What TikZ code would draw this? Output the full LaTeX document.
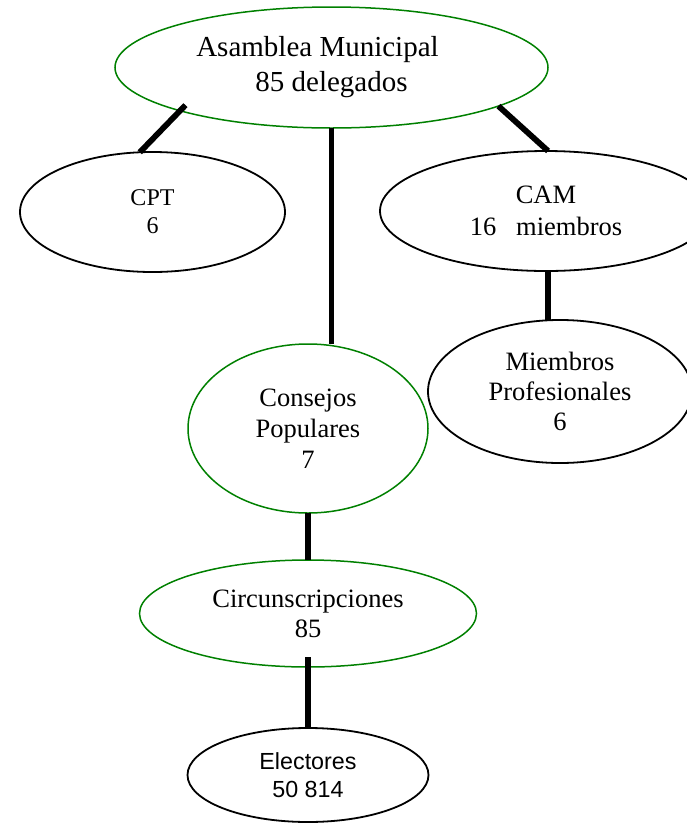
\documentclass[tikz,border=0pt]{standalone}
\usepackage{fontspec}
\setmainfont{Liberation Serif}
\newfontfamily\arialfont{Liberation Sans}
\usetikzlibrary{shapes.geometric}
\definecolor{orggreen}{RGB}{0,128,0}
\tikzset{
  ell/.style={ellipse, draw=black, line width=1.8pt, inner sep=0pt, outer sep=0pt, align=center, text=black},
  gell/.style={ell, draw=orggreen, line width=1.5pt},
  conn/.style={line width=5.8pt, draw=black}
}
\begin{document}
\begin{tikzpicture}[x=1pt,y=-1pt]
\path[use as bounding box] (0,0) rectangle (687,823);
\clip (0,0) rectangle (687,823);
\node[gell, minimum width=433pt, minimum height=121pt, font=\fontsize{29}{35}\selectfont] (asm) at (331.5,67.5)
  {Asamblea Municipal\hspace*{28pt}\\85 delegados};
\node[ell, minimum width=265pt, minimum height=120pt, font=\fontsize{24}{28}\selectfont] (cpt) at (152.5,212) {CPT\\6};
\node[ell, minimum width=332pt, minimum height=120pt, font=\fontsize{26.5}{32}\selectfont] (cam) at (546,211) {CAM\\16~~~miembros};
\node[ell, minimum width=264pt, minimum height=143pt, font=\fontsize{26.5}{30}\selectfont] (mp) at (560,391.5) {Miembros\\Profesionales\\6};
\node[gell, minimum width=240pt, minimum height=169pt, font=\fontsize{26.5}{31}\selectfont] (cons) at (308,428.5) {Consejos\\Populares\\7};
\node[gell, minimum width=337pt, minimum height=107pt, font=\fontsize{26.5}{30}\selectfont] (circ) at (308,613.5) {Circunscripciones\\85};
\node[ell, minimum width=241pt, minimum height=94pt, font=\arialfont\fontsize{23.3}{28}\selectfont] (elec) at (308,775) {Electores\\50 814};
\draw[conn] ([yshift=7pt]asm.197) -- (cpt.102);
\draw[conn] (asm.347) -- (cam.88);
\draw[conn] (asm.south) -- (asm.south |- cons.north);
\draw[conn] ([xshift=2pt]cam.south) -- ([xshift=2pt]cam.south |- mp.north);
\draw[conn] (cons.south) -- (cons.south |- circ.north);
\draw[conn] ([yshift=10pt]circ.south) -- (elec.north);
\end{tikzpicture}
\end{document}
